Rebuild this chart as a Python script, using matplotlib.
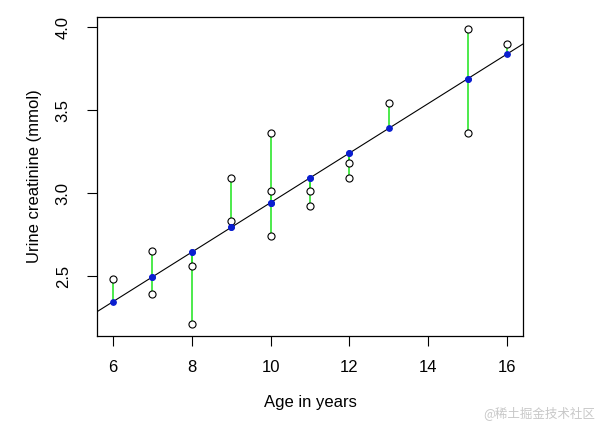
import numpy as np
import matplotlib.pyplot as plt

plt.rcParams['font.family'] = ['Liberation Sans', 'DejaVu Sans']

age = [6, 7, 7, 8, 8, 9, 9, 10, 10, 10, 11, 11, 12, 12, 13, 15, 15, 16]
creat = [2.48, 2.65, 2.39, 2.56, 2.21, 3.09, 2.83, 3.36, 3.01, 2.74,
         3.01, 2.92, 3.18, 3.09, 3.545, 3.99, 3.36, 3.90]

x = np.array(age, dtype=float)
y = np.array(creat)

# least squares fit, like lm() in R
slope, intercept = np.polyfit(x, y, 1)
fitted = intercept + slope * x

fig = plt.figure(figsize=(6, 4.28), dpi=100)
ax = fig.add_axes([0.1617, 0.215, 0.71, 0.745])

# R style axis limits (4% extension)
xr = x.max() - x.min()
yr = y.max() - y.min()
ax.set_xlim(x.min() - 0.04 * xr, x.max() + 0.04 * xr)
ax.set_ylim(y.min() - 0.04 * yr, y.max() + 0.04 * yr)

# residual segments
for xi, yi, fi in zip(x, y, fitted):
    ax.plot([xi, xi], [yi, fi], color='#2ee62e', lw=1.2, zorder=2)

# regression line across the whole plot
xl = np.array(ax.get_xlim())
ax.plot(xl, intercept + slope * xl, color='black', lw=0.8, zorder=1)

ax.scatter(x, y, s=26, facecolors='white', edgecolors='black', linewidths=0.8, zorder=3)
ax.scatter(x, fitted, s=15, color='#0a1ed0', zorder=4)

ax.set_xticks([6, 8, 10, 12, 14, 16])
ax.set_yticks([2.5, 3.0, 3.5, 4.0])
ax.set_yticklabels(['2.5', '3.0', '3.5', '4.0'], rotation=90, va='center')
ax.tick_params(direction='out', length=7, width=0.8, labelsize=12, pad=10)
ax.tick_params(axis='y', pad=12)
for s in ax.spines.values():
    s.set_linewidth(0.9)

ax.set_xlabel('Age in years', fontsize=12, labelpad=15)
ax.set_ylabel('Urine creatinine (mmol)', fontsize=12, labelpad=10)

fig.text(0.992, 0.035, '@稀土掘金技术社区', ha='right', va='center', fontsize=9,
         color='#c8c8c8', family=['Noto Sans CJK SC', 'DejaVu Sans'])

fig.savefig('out.png', dpi=100)
